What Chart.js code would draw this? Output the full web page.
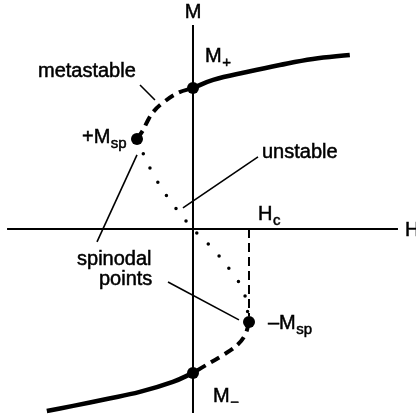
<!DOCTYPE html>
<html><head><meta charset="utf-8">
<script src="https://cdn.jsdelivr.net/npm/chart.js@4"></script>
<style>html,body{margin:0;padding:0;background:#fff}#wrap{width:416px;height:419px;position:relative}</style>
</head><body><div id="wrap"><canvas id="c"></canvas></div>
<script>
// H in units of Hc, M in units of M+ (schematic)
const stableUpperH = [0, 0.36, 0.96, 1.55, 2.14, 2.80];
const stableUpperM = [1.0, 1.057, 1.113, 1.163, 1.206, 1.234];
const metaUpperH = [-1.0, -0.89, -0.82, -0.71, -0.54, -0.27, 0];
const metaUpperM = [0.638, 0.702, 0.759, 0.830, 0.894, 0.965, 1.0];
const unstableH = [-1.0, -0.75, -0.43, 0, 0.375, 0.75, 0.91, 1.0];
const unstableM = [0.638, 0.418, 0.213, 0, -0.149, -0.340, -0.447, -0.66];
const metaLowerH = [1.0, 0.93, 0.79, 0.54, 0.30, 0];
const metaLowerM = [-0.66, -0.752, -0.823, -0.894, -0.950, -1.021];
const stableLowerH = [0, -0.36, -0.95, -1.54, -2.14, -2.61];
const stableLowerM = [-1.021, -1.085, -1.156, -1.206, -1.255, -1.291];
const keyH = [0, -1.0, 1.0, 0];
const keyM = [1.0, 0.638, -0.66, -1.021];
const Hc = 1.0;
const HcM = -0.62;

const pts = (xs, ys) => xs.map((x, i) => ({x, y: ys[i]}));

const FONT = '"Liberation Sans", Arial, Helvetica, sans-serif';

// leader lines (data coords)
const leaders = [
  [[-0.946, 1.021], [-0.679, 0.915]],
  [[1.161, 0.511], [-0.179, 0.149]],
  [[-1.0, 0.525], [-1.714, -0.092]],
  [[-0.446, -0.376], [0.821, -0.645]]
];

// text labels: [main, sub, x, y(baseline), align]
const labels = [
  ['M', '', 0, 1.496, 'center'],
  ['H', '', 3.786, -0.05, 'left'],
  ['M', '+', 0.214, 1.184, 'left'],
  ['metastable', '', -2.768, 1.078, 'left'],
  ['+M', 'sp', -1.982, 0.61, 'left'],
  ['unstable', '', 1.232, 0.504, 'left'],
  ['H', 'c', 1.161, 0.064, 'left'],
  ['spinodal', '', -2.071, -0.255, 'left'],
  ['points', '', -1.679, -0.397, 'left'],
  ['\u2013M', 'sp', 1.339, -0.709, 'left'],
  ['M', '\u2212', 0.357, -1.227, 'left']
];

const lineDs = (data, extra) => Object.assign({
  data, showLine: true, pointRadius: 0, borderColor: '#000', backgroundColor: '#000',
  borderWidth: 2, tension: 0.4, clip: false, fill: false
}, extra);

const datasets = [
  lineDs([{x: -3.32, y: 0}, {x: 3.66, y: 0}], {borderWidth: 2, tension: 0}),
  lineDs([{x: 0, y: 1.447}, {x: 0, y: -1.305}], {borderWidth: 2, tension: 0}),
  lineDs([{x: Hc, y: 0}, {x: Hc, y: HcM}], {borderWidth: 2, tension: 0, borderDash: [9, 5]}),
  lineDs(pts(stableUpperH, stableUpperM), {borderWidth: 4.5}),
  lineDs(pts(stableLowerH, stableLowerM), {borderWidth: 4.5}),
  lineDs(pts(metaUpperH, metaUpperM), {borderWidth: 4, borderDash: [10, 6]}),
  lineDs(pts(metaLowerH, metaLowerM), {borderWidth: 4, borderDash: [10, 6]}),
  lineDs(pts(unstableH, unstableM), {borderWidth: 3.5, borderDash: [0, 16], borderCapStyle: 'round'}),
  ...leaders.map(l => lineDs(l.map(p => ({x: p[0], y: p[1]})), {borderWidth: 1.6, tension: 0})),
  {data: pts(keyH, keyM), showLine: false, pointRadius: 6, pointBackgroundColor: '#000', pointBorderWidth: 0, clip: false}
];

const textPlugin = {
  id: 'texts',
  afterDatasetsDraw(chart) {
    const ctx = chart.ctx, xs = chart.scales.x, ys = chart.scales.y;
    ctx.save();
    ctx.fillStyle = '#000';
    ctx.strokeStyle = '#000';
    ctx.lineWidth = 0.5;
    ctx.textBaseline = 'alphabetic';
    labels.forEach(([main, sub, x, y, align]) => {
      const px = xs.getPixelForValue(x), py = ys.getPixelForValue(y);
      ctx.font = '20px ' + FONT;
      ctx.textAlign = align;
      ctx.fillText(main, px, py);
      ctx.strokeText(main, px, py);
      if (sub) {
        const w = ctx.measureText(main).width;
        ctx.font = '15px ' + FONT;
        ctx.textAlign = 'left';
        ctx.fillText(sub, px + w + 0.5, py + 5);
        ctx.strokeText(sub, px + w + 0.5, py + 5);
      }
    });
    ctx.restore();
  }
};

new Chart(document.getElementById('c'), {
  type: 'scatter',
  data: {datasets},
  options: {
    responsive: true, maintainAspectRatio: false, animation: false,
    layout: {padding: 0, autoPadding: false},
    plugins: {legend: {display: false}, tooltip: {enabled: false}},
    scales: {
      x: {type: 'linear', display: false, min: -3.446, max: 3.982},
      y: {type: 'linear', display: false, min: -1.348, max: 1.624}
    }
  },
  plugins: [textPlugin]
});
</script></body></html>
